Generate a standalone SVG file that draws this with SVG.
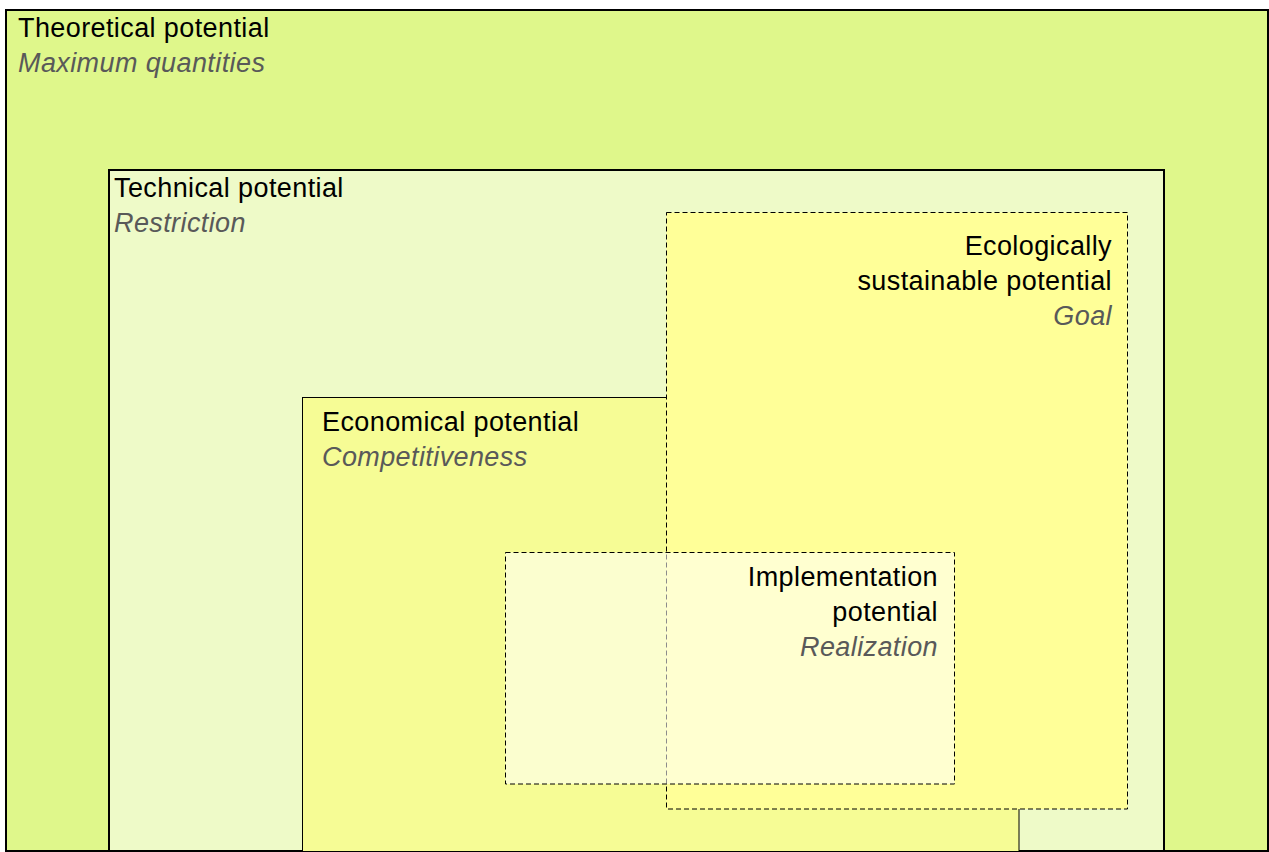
<svg xmlns="http://www.w3.org/2000/svg" width="1269" height="852" viewBox="0 0 1269 852">
<style>
.t{font-family:"Liberation Sans",Arial,sans-serif;font-size:27px;letter-spacing:0.4px;fill:#000}
.s{font-family:"Liberation Sans",Arial,sans-serif;font-size:27px;letter-spacing:0.4px;font-style:italic;fill:#595959}
.r{text-anchor:end}
.dash{stroke:#000;stroke-width:1;stroke-dasharray:5,3}
</style>
<rect width="1269" height="852" fill="#ffffff"/>
<g id="theoretical">
<rect x="6" y="10" width="1262" height="841" fill="#dff78b" stroke="#000" stroke-width="2"/>
<text class="t" x="18" y="37">Theoretical potential</text>
<text class="s" x="18" y="72">Maximum quantities</text>
</g>
<g id="technical">
<rect x="109" y="170" width="1055" height="681" fill="#eefac8" stroke="#000" stroke-width="2"/>
<text class="t" x="114" y="197">Technical potential</text>
<text class="s" x="114" y="232">Restriction</text>
</g>
<g id="economical">
<rect x="302.5" y="397.5" width="716.5" height="454" fill="#f6fc95" stroke="#000" stroke-width="1"/>
<text class="t" x="322" y="431">Economical potential</text>
<text class="s" x="322" y="466">Competitiveness</text>
</g>
<g id="ecological">
<rect x="666.5" y="212.5" width="461" height="596.5" fill="#ffff98" class="dash"/>
<text class="t r" x="1112" y="255">Ecologically</text>
<text class="t r" x="1112" y="290">sustainable potential</text>
<text class="s r" x="1112" y="325">Goal</text>
</g>
<g id="implementation">
<rect x="505.5" y="552.5" width="449" height="231.5" fill="#ffffff" fill-opacity="0.55" class="dash"/>
<text class="t r" x="938" y="586">Implementation</text>
<text class="t r" x="938" y="621">potential</text>
<text class="s r" x="938" y="656">Realization</text>
</g>
<g id="connectors"></g>
</svg>
